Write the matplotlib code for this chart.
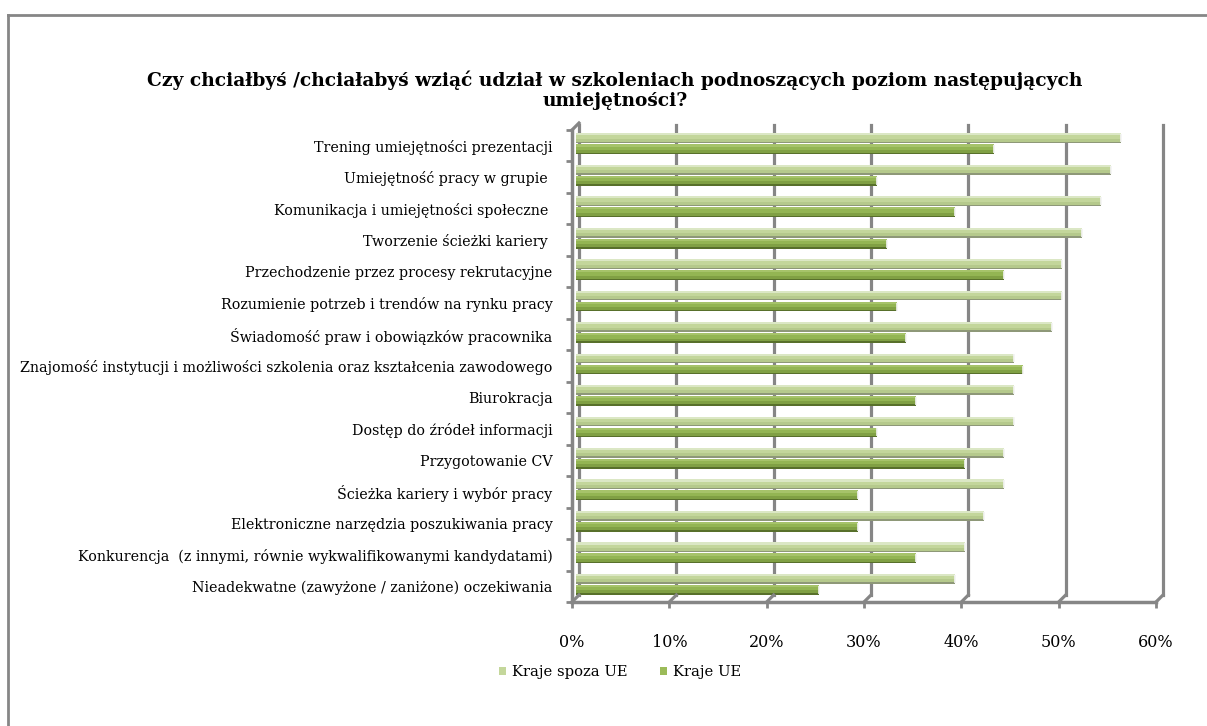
import matplotlib
matplotlib.use("Agg")
import matplotlib.pyplot as plt
import matplotlib.transforms as mtransforms
from matplotlib.lines import Line2D
from matplotlib.patches import Patch
import numpy as np

plt.rcParams['font.family'] = ['DejaVu Serif']

# Dane z ankiety (odsetek odpowiedzi, %)
kategorie = [
    "Trening umiejętności prezentacji",
    "Umiejętność pracy w grupie ",
    "Komunikacja i umiejętności społeczne ",
    "Tworzenie ścieżki kariery ",
    "Przechodzenie przez procesy rekrutacyjne",
    "Rozumienie potrzeb i trendów na rynku pracy",
    "Świadomość praw i obowiązków pracownika",
    "Znajomość instytucji i możliwości szkolenia oraz kształcenia zawodowego",
    "Biurokracja",
    "Dostęp do źródeł informacji",
    "Przygotowanie CV",
    "Ścieżka kariery i wybór pracy",
    "Elektroniczne narzędzia poszukiwania pracy",
    "Konkurencja  (z innymi, równie wykwalifikowanymi kandydatami)",
    "Nieadekwatne (zawyżone / zaniżone) oczekiwania",
]
spoza_ue = [56, 55, 54, 52, 50, 50, 49, 45, 45, 45, 44, 44, 42, 40, 39]
ue = [43, 31, 39, 32, 44, 33, 34, 46, 35, 31, 40, 29, 29, 35, 25]
osie_x = [0, 10, 20, 30, 40, 50, 60]
etykiety_x = ["0%", "10%", "20%", "30%", "40%", "50%", "60%"]

tytul = ("Czy chciałbyś /chciałabyś wziąć udział w szkoleniach podnoszących poziom następujących\n"
         "umiejętności?")

fig = plt.figure(figsize=(12.07, 7.26), dpi=100)
ax = fig.add_axes([572 / 1207, 1 - 602 / 726, 584 / 1207, 472 / 726])

szary = "#868686"
n = len(kategorie)
y = np.arange(n)
h = 0.31

# paski z cieniowaniem (efekt walca)
pasma_jasne = [(0.00, 0.15, "#8e9878"), (0.15, 0.45, "#b5c98c"), (0.45, 0.78, "#c3d69b"), (0.78, 1.00, "#dbe7c5")]
pasma_ciemne = [(0.00, 0.15, "#58702b"), (0.15, 0.45, "#80a044"), (0.45, 0.78, "#93b553"), (0.78, 1.00, "#a6c36a")]

przes_paski = mtransforms.offset_copy(ax.transData, fig=fig, x=3.5, y=2.0, units='dots')

def rysuj(wartosci, y0, pasma):
    for a, b, kol in pasma:
        ax.barh(y0 + h * (1 - b), wartosci, height=h * (b - a), align='edge',
                color=kol, edgecolor='none', transform=przes_paski, zorder=3)
    ax.plot(wartosci, y0 + h / 2, ls='none', marker='|', ms=6, mew=1.2,
            color="#f4f4f4", transform=przes_paski, zorder=4)

rysuj(spoza_ue, y - h - 0.02, pasma_jasne)
rysuj(ue, y + 0.02, pasma_ciemne)

ax.set_xlim(0, 60)
ax.set_ylim(n - 0.5, -0.5)

# tylna ściana: linie siatki przesunięte w głąb
tyl = mtransforms.offset_copy(ax.get_xaxis_transform(), fig=fig, x=7, y=7, units='dots')
for v in osie_x:
    ax.plot([v, v], [0, 0.995], color=szary, lw=2.3, transform=tyl, zorder=1, clip_on=False)
    # łączniki podłogi
    p0 = ax.get_xaxis_transform().transform((v, 0))
    p1 = tyl.transform((v, 0))
    fig.add_artist(Line2D([p0[0] / fig.bbox.width, p1[0] / fig.bbox.width],
                          [p0[1] / fig.bbox.height, p1[1] / fig.bbox.height],
                          color=szary, lw=2.3))
# skos na górze lewej osi
p0 = ax.transAxes.transform((0, 1))
p1 = tyl.transform((0, 1))
fig.add_artist(Line2D([p0[0] / fig.bbox.width, p1[0] / fig.bbox.width],
                      [p0[1] / fig.bbox.height, p1[1] / fig.bbox.height],
                      color=szary, lw=2.3))

for s in ["top", "right"]:
    ax.spines[s].set_visible(False)
for s in ["left", "bottom"]:
    ax.spines[s].set_color(szary)
    ax.spines[s].set_linewidth(2.5)
    ax.spines[s].set_zorder(5)

ax.set_xticks(osie_x)
ax.set_xticklabels(etykiety_x, fontsize=11.5)
ax.tick_params(axis='x', length=4, width=2, color=szary, pad=19)
ax.set_yticks(y)
ax.set_yticklabels(kategorie, fontsize=10.3)
ax.set_yticks(np.arange(-0.5, n, 1.0), minor=True)
ax.tick_params(axis='y', which='major', length=0, pad=14)
ax.tick_params(axis='y', which='minor', length=4, width=2, color=szary)

fig.text(615 / 1207, 1 - 90.5 / 726, tytul, ha='center', va='center',
         fontsize=13.4, fontweight='bold', linespacing=1.15)

uchwyty = [Patch(facecolor="#c4d79b", edgecolor='none', label="Kraje spoza UE"),
           Patch(facecolor="#9bbb59", edgecolor='none', label="Kraje UE")]
fig.legend(handles=uchwyty, loc='center', bbox_to_anchor=(620 / 1207, 1 - 672 / 726),
           ncol=2, frameon=False, fontsize=10.6, handlelength=0.5, handleheight=0.5,
           handletextpad=0.4, columnspacing=2.2)

# ramka wykresu
fig.add_artist(Line2D([8 / 1207, 8 / 1207], [0, 1 - 15 / 726], color=szary, lw=2))
fig.add_artist(Line2D([8 / 1207, 1], [1 - 15 / 726, 1 - 15 / 726], color=szary, lw=2))

fig.savefig("out.png", dpi=100)
